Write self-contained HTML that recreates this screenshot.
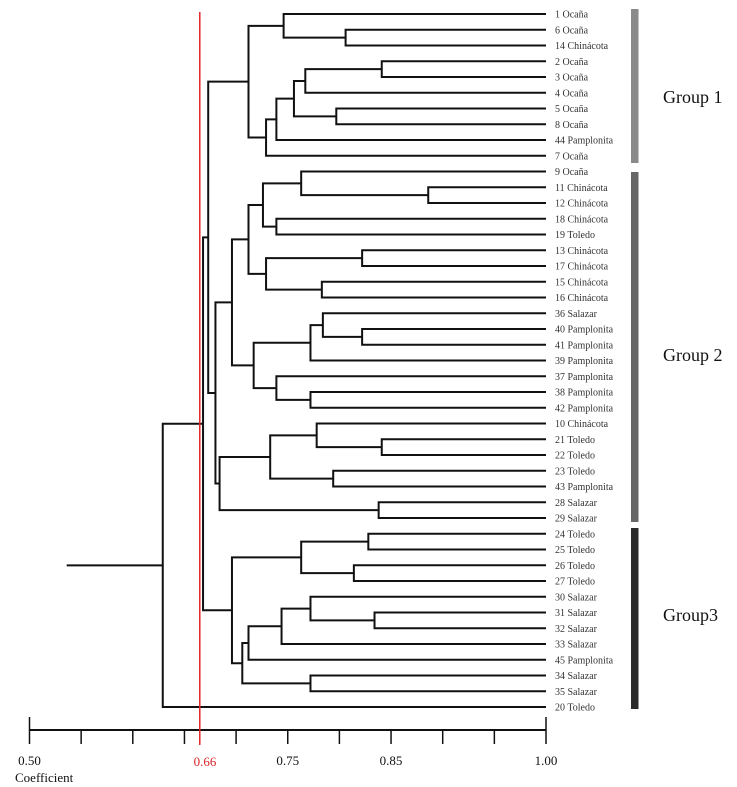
<!DOCTYPE html>
<html><head><meta charset="utf-8"><style>
html,body{margin:0;padding:0;background:#fff;}
svg{display:block;font-family:"Liberation Serif",serif;}
</style></head><body>
<svg id="chart" width="737" height="787" viewBox="0 0 737 787" xmlns="http://www.w3.org/2000/svg">
<g id="tree"></g>
<g id="labels"></g>
<g id="axis"></g>
<rect x="631" y="9" width="7.5" height="154" fill="#8a8a8a"/>
<rect x="631" y="172" width="7.5" height="350" fill="#676767"/>
<rect x="631" y="528" width="7.5" height="181" fill="#2a2a2a"/>
<text x="663" y="103" font-size="18" fill="#111">Group 1</text>
<text x="663" y="361" font-size="18" fill="#111">Group 2</text>
<text x="663" y="621" font-size="18" fill="#111">Group3</text>
</svg>
<script>
const leafNames = ["1 Ocaña","6 Ocaña","14 Chinácota","2 Ocaña","3 Ocaña","4 Ocaña","5 Ocaña","8 Ocaña","44 Pamplonita","7 Ocaña","9 Ocaña","11 Chinácota","12 Chinácota","18 Chinácota","19 Toledo","13 Chinácota","17 Chinácota","15 Chinácota","16 Chinácota","36 Salazar","40 Pamplonita","41 Pamplonita","39 Pamplonita","37 Pamplonita","38 Pamplonita","42 Pamplonita","10 Chinácota","21 Toledo","22 Toledo","23 Toledo","43 Pamplonita","28 Salazar","29 Salazar","24 Toledo","25 Toledo","26 Toledo","27 Toledo","30 Salazar","31 Salazar","32 Salazar","33 Salazar","45 Pamplonita","34 Salazar","35 Salazar","20 Toledo"];
const mergeLeft  = [1,0,3,47,6,48,50,51,46,11,10,13,55,15,17,58,57,20,19,63,24,23,64,61,27,26,29,70,31,72,68,53,33,35,77,38,37,81,82,42,83,79,76,87];
const mergeRight = [2,45,4,5,7,49,8,9,52,12,54,14,56,16,18,59,60,21,62,22,25,65,66,67,28,69,30,71,32,73,74,75,34,36,78,39,80,40,41,43,84,85,86,44];
const mergeHeight = [0.806,0.746,0.841,0.767,0.797,0.756,0.739,0.729,0.712,0.886,0.763,0.739,0.726,0.822,0.783,0.729,0.712,0.822,0.784,0.772,0.772,0.739,0.717,0.696,0.841,0.778,0.794,0.733,0.838,0.684,0.680,0.673,0.828,0.814,0.763,0.834,0.772,0.744,0.712,0.772,0.706,0.696,0.668,0.629];
const rootStub = 0.536;
const cutValue = 0.66;
const tickValues = [0.50,0.55,0.60,0.65,0.70,0.75,0.80,0.85,0.90,0.95,1.00];
const tickLabels = ["0.50","0.75","0.85","1.00"];
const tickLabelValues = [0.50,0.75,0.85,1.00];

const NS="http://www.w3.org/2000/svg";
const xS = v => 29.5 + (v-0.5)*1033;
const yS = i => 14 + i*15.75;
function mk(tag, attrs, parent){const e=document.createElementNS(NS,tag);for(const k in attrs)e.setAttribute(k,attrs[k]);parent.appendChild(e);return e;}
const tree=document.getElementById('tree');
const labels=document.getElementById('labels');
const axis=document.getElementById('axis');
const n=leafNames.length;
const nodeX=[],nodeY=[];
for(let i=0;i<n;i++){nodeX.push(xS(1.0));nodeY.push(yS(i));
  const t=mk('text',{x:555,y:yS(i)+3.5,'font-size':10,fill:'#333'},labels);
  
  
  t.textContent=leafNames[i];
}
const st={stroke:'#111','stroke-width':2,fill:'none'};
for(let k=0;k<mergeHeight.length;k++){
  const a=mergeLeft[k],b=mergeRight[k],x=xS(mergeHeight[k]);
  const p=mk('path',Object.assign({d:`M${nodeX[a]},${nodeY[a]}H${x}V${nodeY[b]}H${nodeX[b]}`},st),tree);
  
  
  nodeX.push(x);nodeY.push((nodeY[a]+nodeY[b])/2);
}
const r=nodeX.length-1;
const stub=mk('path',Object.assign({d:`M${nodeX[r]},${nodeY[r]}H${xS(rootStub)}`},st),tree);


// axis
const al=mk('line',{x1:xS(0.5),x2:xS(1.0),y1:730,y2:730,stroke:'#111','stroke-width':2},axis);


tickValues.forEach((v,i)=>{
  const end=(i===0||i===tickValues.length-1);
  const t=mk('line',{x1:xS(v),x2:xS(v),y1:end?717:730,y2:744,stroke:'#111','stroke-width':1.5},axis);
  
  
});
tickLabelValues.forEach((v,i)=>{
  const t=mk('text',{x:xS(v),y:765,'font-size':13,'text-anchor':'middle',fill:'#111'},axis);
  
  
  t.textContent=tickLabels[i];
});
const cl=mk('text',{x:205,y:766,'font-size':13,'text-anchor':'middle',fill:'#d9262a'},axis);


cl.textContent=cutValue.toFixed(2);
const at=mk('text',{x:15,y:782,'font-size':13,fill:'#111'},axis);


at.textContent='Coefficient';
const cut=mk('line',{x1:xS(cutValue)+5,x2:xS(cutValue)+5,y1:12,y2:745,stroke:'#e0262a','stroke-width':1.5},document.getElementById('chart'));


</script>
</body></html>
